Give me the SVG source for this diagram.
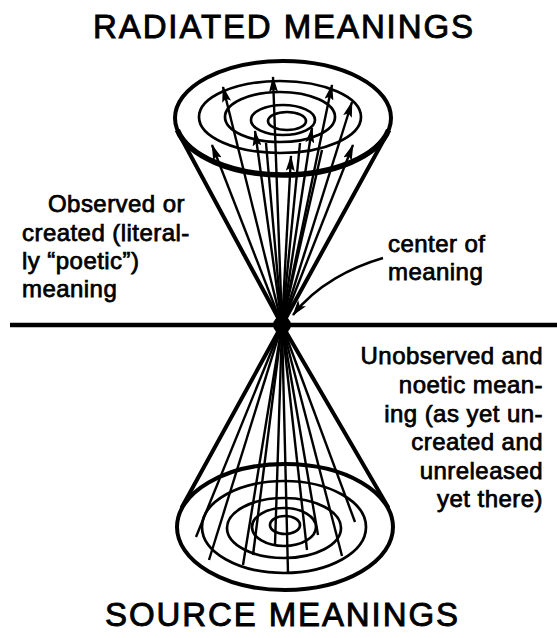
<svg xmlns="http://www.w3.org/2000/svg" width="557" height="638" viewBox="0 0 557 638">
<style>
.t{font-family:"Liberation Sans",Arial,sans-serif;fill:#000;stroke:#000;stroke-width:0.75}
.title{font-size:33px;letter-spacing:1.9px;stroke-width:0.9}
.lbl{font-size:24px;letter-spacing:0.45px}
.rim{fill:none;stroke:#000;stroke-width:4}
.ring{fill:none;stroke:#000;stroke-width:2.7}
.side{stroke:#000;stroke-width:4;stroke-linecap:round}
.ray{stroke:#000;stroke-width:2.4;fill:none}
.arr{stroke:#000;stroke-width:2.4;fill:none;marker-end:url(#ah)}
</style>
<defs>
<marker id="ah" viewBox="0 0 16 9" refX="15" refY="4.5" markerWidth="16" markerHeight="9" markerUnits="userSpaceOnUse" orient="auto">
<path d="M0,0 L16,4.5 L0,9 L3,4.5 z" fill="#000"/>
</marker>
<marker id="ah2" viewBox="0 0 16 10" refX="15" refY="5" markerWidth="16" markerHeight="10" markerUnits="userSpaceOnUse" orient="auto">
<path d="M0,0 L16,5 L0,10 L4,5 z" fill="#000"/>
</marker>
</defs>
<rect width="557" height="638" fill="#fff"/>

<g id="title-radiated"><text class="t title" x="93" y="38">RADIATED MEANINGS</text></g>
<g id="title-source"><text class="t title" x="105" y="626">SOURCE MEANINGS</text></g>

<g id="horizon"><line x1="10" y1="325" x2="557" y2="325" stroke="#000" stroke-width="4.5"/></g>

<g id="cone-top">
<line class="side" x1="179" y1="134" x2="282" y2="325"/>
<line class="side" x1="387" y1="134" x2="282" y2="325"/>
<ellipse class="rim" cx="283" cy="118" rx="108" ry="57"/>
<path d="M177.4,130 A108,57 0 0 0 388.6,130" fill="none" stroke="#000" stroke-width="5.5"/>
<ellipse class="ring" cx="280" cy="117" rx="81" ry="36"/>
<ellipse class="ring" cx="280" cy="117" rx="55" ry="25"/>
<ellipse class="ring" cx="283" cy="120" rx="32" ry="15"/>
<ellipse class="ring" cx="287" cy="121" rx="19" ry="9"/>
<line class="arr" x1="282" y1="325" x2="273" y2="77"/>
<line class="arr" x1="282" y1="325" x2="223" y2="87"/>
<line class="arr" x1="282" y1="325" x2="332" y2="85"/>
<line class="arr" x1="282" y1="325" x2="352" y2="102"/>
<line class="arr" x1="282" y1="325" x2="212" y2="145"/>
<line class="arr" x1="282" y1="325" x2="255" y2="131"/>
<line class="arr" x1="282" y1="325" x2="312" y2="128"/>
<line class="arr" x1="282" y1="325" x2="291" y2="156"/>
<line class="arr" x1="282" y1="325" x2="353" y2="145"/>
<line class="ray" x1="282" y1="325" x2="266" y2="143"/>
<line class="ray" x1="282" y1="325" x2="300" y2="143"/>
<line class="ray" x1="282" y1="325" x2="322" y2="150"/>
</g>

<g id="cone-bottom">
<line class="side" x1="182" y1="507" x2="282" y2="325"/>
<line class="side" x1="388" y1="507" x2="282" y2="325"/>
<ellipse class="rim" cx="285" cy="527" rx="108" ry="63" stroke-width="5"/>
<ellipse class="ring" cx="284" cy="527" rx="82" ry="46"/>
<ellipse class="ring" cx="284" cy="528" rx="57" ry="30"/>
<ellipse class="ring" cx="284" cy="527" rx="32" ry="19"/>
<ellipse class="ring" cx="285" cy="525" rx="15" ry="9"/>
<line class="ray" x1="282" y1="325" x2="196" y2="537"/>
<line class="ray" x1="282" y1="325" x2="209" y2="560"/>
<line class="ray" x1="282" y1="325" x2="243" y2="565"/>
<line class="ray" x1="282" y1="325" x2="253" y2="555"/>
<line class="ray" x1="282" y1="325" x2="275" y2="545"/>
<line class="ray" x1="282" y1="325" x2="288" y2="573"/>
<line class="ray" x1="282" y1="325" x2="307" y2="550"/>
<line class="ray" x1="282" y1="325" x2="318" y2="535"/>
<line class="ray" x1="282" y1="325" x2="342" y2="556"/>
<line class="ray" x1="282" y1="325" x2="355" y2="522"/>
</g>

<g id="center"><circle cx="282" cy="325" r="9" fill="#000"/></g>

<g id="connectors">
<path d="M383,258 C352,267 316,285 293,315" fill="none" stroke="#000" stroke-width="2.4" marker-end="url(#ah2)"/>
</g>

<g id="label-observed">
<text class="t lbl" x="48" y="212">Observed or</text>
<text class="t lbl" x="22" y="240.5">created (literal-</text>
<text class="t lbl" x="22" y="269">ly “poetic”)</text>
<text class="t lbl" x="22" y="297">meaning</text>
</g>
<g id="label-center">
<text class="t lbl" x="388" y="252">center of</text>
<text class="t lbl" x="388" y="280">meaning</text>
</g>
<g id="label-unobserved" text-anchor="end">
<text class="t lbl" x="543" y="364">Unobserved and</text>
<text class="t lbl" x="543" y="393">noetic mean-</text>
<text class="t lbl" x="543" y="421.5">ing (as yet un-</text>
<text class="t lbl" x="543" y="450">created and</text>
<text class="t lbl" x="543" y="478.5">unreleased</text>
<text class="t lbl" x="543" y="507">yet there)</text>
</g>
</svg>
